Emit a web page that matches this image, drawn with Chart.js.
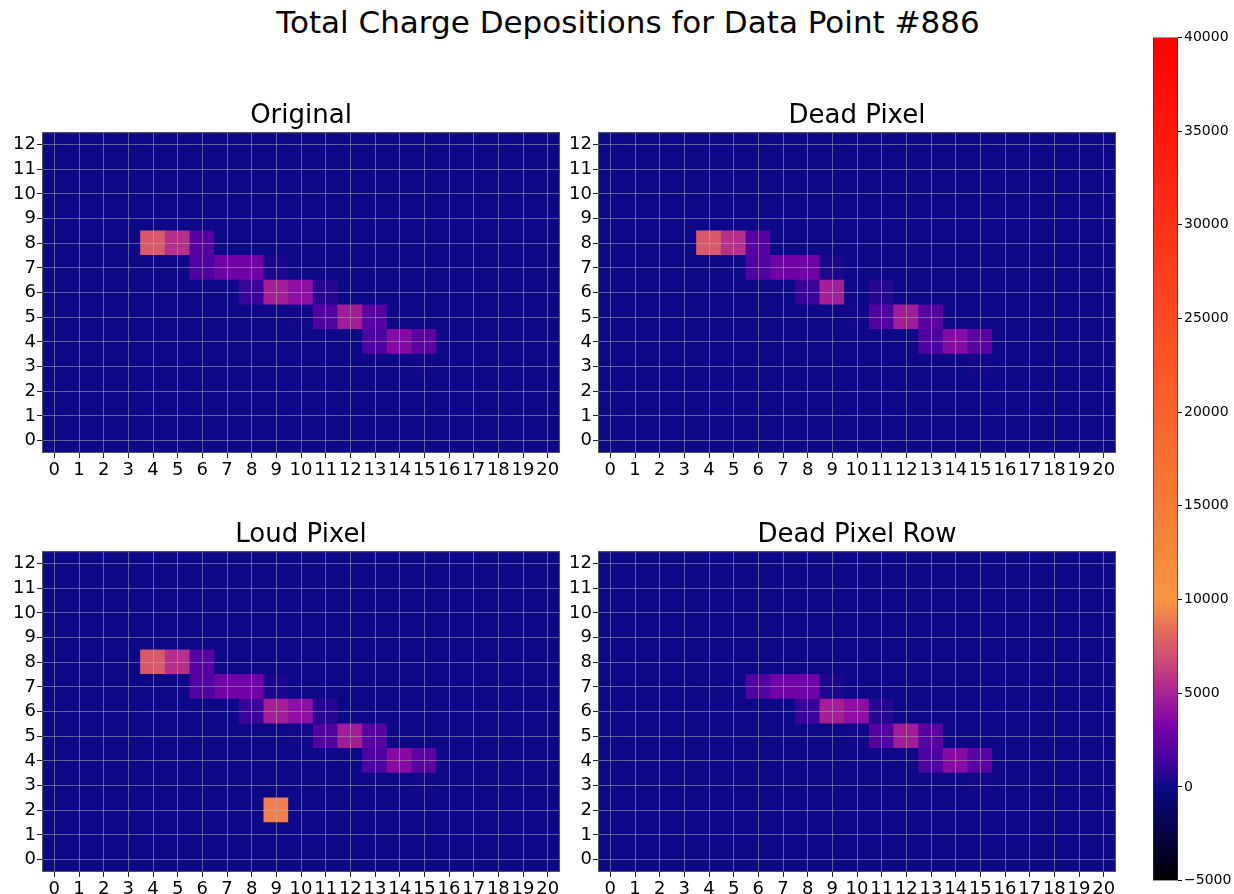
<!DOCTYPE html>
<html>
<head>
<meta charset="utf-8">
<script src="https://cdn.jsdelivr.net/npm/chart.js@4.4.0/dist/chart.umd.min.js"></script>
<style>
  body { margin: 0; background: #fff; width: 1234px; height: 894px; position: relative; overflow: hidden; font-family: "DejaVu Sans", sans-serif; }
  #titulo { position: absolute; left: 0; top: 2px; width: 1256px; text-align: center; font-size: 31px; line-height: 40px; color: #000; }
  canvas { position: absolute; }
</style>
</head>
<body>
<div id="titulo">Total Charge Depositions for Data Point #886</div>
<canvas id="original" width="565" height="396" style="left:0px; top:87px"></canvas>
<canvas id="deadPixel" width="565" height="396" style="left:556px; top:87px"></canvas>
<canvas id="loudPixel" width="565" height="396" style="left:0px; top:506px"></canvas>
<canvas id="deadPixelRow" width="565" height="396" style="left:556px; top:506px"></canvas>
<canvas id="barra" width="94" height="864" style="left:1140px; top:27px"></canvas>
<script>
// Ejes
const xLabels = ['0','1','2','3','4','5','6','7','8','9','10','11','12','13','14','15','16','17','18','19','20'];
const yLabels = [0, 1, 2, 3, 4, 5, 6, 7, 8, 9, 10, 11, 12];
const colorbarTicks = [-5000, 0, 5000, 10000, 15000, 20000, 25000, 30000, 35000, 40000];

// Carga por pixel, fila 0 primero (abajo) hasta fila 12 (arriba)
const valoresOriginal = [
  [0,0,0,0,0,0,0,0,0,0,0,0,0,0,0,0,0,0,0,0,0],
  [0,0,0,0,0,0,0,0,0,0,0,0,0,0,0,0,0,0,0,0,0],
  [0,0,0,0,0,0,0,0,0,0,0,0,0,0,0,0,0,0,0,0,0],
  [0,0,0,0,0,0,0,0,0,0,0,0,0,0,0,150,0,0,0,0,0],
  [0,0,0,0,0,0,0,0,0,0,0,0,0,1750,3700,2200,0,0,0,0,0],
  [0,0,0,0,0,0,0,0,0,0,100,1900,4700,2100,0,0,0,0,0,0,0],
  [0,0,0,0,0,0,0,0,1200,4800,3900,630,0,0,0,0,0,0,0,0,0],
  [0,0,0,0,-100,0,1800,2900,2900,450,0,0,0,0,0,0,0,0,0,0,0],
  [0,0,0,0,7500,5600,2000,0,0,0,0,0,0,0,0,0,0,0,0,0,0],
  [0,0,0,0,0,0,0,0,0,0,0,0,0,0,0,0,0,0,0,0,0],
  [0,0,0,0,0,0,0,0,0,0,0,0,0,0,0,0,0,0,0,0,0],
  [0,0,0,0,0,0,0,0,0,0,0,0,0,0,0,0,0,0,0,0,0],
  [0,0,0,0,0,0,0,0,0,0,0,0,0,0,0,0,0,0,0,0,0]
];

const valoresDeadPixel = [
  [0,0,0,0,0,0,0,0,0,0,0,0,0,0,0,0,0,0,0,0,0],
  [0,0,0,0,0,0,0,0,0,0,0,0,0,0,0,0,0,0,0,0,0],
  [0,0,0,0,0,0,0,0,0,0,0,0,0,0,0,0,0,0,0,0,0],
  [0,0,0,0,0,0,0,0,0,0,0,0,0,0,0,150,0,0,0,0,0],
  [0,0,0,0,0,0,0,0,0,0,0,0,0,1750,3700,2200,0,0,0,0,0],
  [0,0,0,0,0,0,0,0,0,0,100,1900,4700,2100,0,0,0,0,0,0,0],
  [0,0,0,0,0,0,0,0,1200,4800,0,630,0,0,0,0,0,0,0,0,0],
  [0,0,0,0,-100,0,1800,2900,2900,450,0,0,0,0,0,0,0,0,0,0,0],
  [0,0,0,0,7500,5600,2000,0,0,0,0,0,0,0,0,0,0,0,0,0,0],
  [0,0,0,0,0,0,0,0,0,0,0,0,0,0,0,0,0,0,0,0,0],
  [0,0,0,0,0,0,0,0,0,0,0,0,0,0,0,0,0,0,0,0,0],
  [0,0,0,0,0,0,0,0,0,0,0,0,0,0,0,0,0,0,0,0,0],
  [0,0,0,0,0,0,0,0,0,0,0,0,0,0,0,0,0,0,0,0,0]
];

const valoresLoudPixel = [
  [0,0,0,0,0,0,0,0,0,0,0,0,0,0,0,0,0,0,0,0,0],
  [0,0,0,0,0,0,0,0,0,0,0,0,0,0,0,0,0,0,0,0,0],
  [0,0,0,0,0,0,0,0,0,9200,0,0,0,0,0,0,0,0,0,0,0],
  [0,0,0,0,0,0,0,0,0,0,0,0,0,0,0,150,0,0,0,0,0],
  [0,0,0,0,0,0,0,0,0,0,0,0,0,1750,3700,2200,0,0,0,0,0],
  [0,0,0,0,0,0,0,0,0,0,100,1900,4700,2100,0,0,0,0,0,0,0],
  [0,0,0,0,0,0,0,0,1200,4800,3900,630,0,0,0,0,0,0,0,0,0],
  [0,0,0,0,-100,0,1800,2900,2900,450,0,0,0,0,0,0,0,0,0,0,0],
  [0,0,0,0,7500,5600,2000,0,0,0,0,0,0,0,0,0,0,0,0,0,0],
  [0,0,0,0,0,0,0,0,0,0,0,0,0,0,0,0,0,0,0,0,0],
  [0,0,0,0,0,0,0,0,0,0,0,0,0,0,0,0,0,0,0,0,0],
  [0,0,0,0,0,0,0,0,0,0,0,0,0,0,0,0,0,0,0,0,0],
  [0,0,0,0,0,0,0,0,0,0,0,0,0,0,0,0,0,0,0,0,0]
];

const valoresDeadPixelRow = [
  [0,0,0,0,0,0,0,0,0,0,0,0,0,0,0,0,0,0,0,0,0],
  [0,0,0,0,0,0,0,0,0,0,0,0,0,0,0,0,0,0,0,0,0],
  [0,0,0,0,0,0,0,0,0,0,0,0,0,0,0,0,0,0,0,0,0],
  [0,0,0,0,0,0,0,0,0,0,0,0,0,0,0,150,0,0,0,0,0],
  [0,0,0,0,0,0,0,0,0,0,0,0,0,1750,3700,2200,0,0,0,0,0],
  [0,0,0,0,0,0,0,0,0,0,100,1900,4700,2100,0,0,0,0,0,0,0],
  [0,0,0,0,0,0,0,0,1200,4800,3900,630,0,0,0,0,0,0,0,0,0],
  [0,0,0,0,-100,0,1800,2900,2900,450,0,0,0,0,0,0,0,0,0,0,0],
  [0,0,0,0,0,0,0,0,0,0,0,0,0,0,0,0,0,0,0,0,0],
  [0,0,0,0,0,0,0,0,0,0,0,0,0,0,0,0,0,0,0,0,0],
  [0,0,0,0,0,0,0,0,0,0,0,0,0,0,0,0,0,0,0,0,0],
  [0,0,0,0,0,0,0,0,0,0,0,0,0,0,0,0,0,0,0,0,0],
  [0,0,0,0,0,0,0,0,0,0,0,0,0,0,0,0,0,0,0,0,0]
];

// Mapa de color: negro -> plasma -> rojo
const cmapStops = [
  [-5000, [0, 0, 0]],
  [0, [12, 8, 135]],
  [1667, [76, 2, 161]],
  [3333, [126, 3, 168]],
  [5000, [169, 35, 149]],
  [6667, [204, 71, 120]],
  [8333, [229, 107, 93]],
  [10000, [248, 148, 65]],
  [40000, [255, 0, 0]]
];

function rgb(c) { return `rgb(${c.map(Math.round).join(',')})`; }

function colorDe(v) {
  for (let i = 1; i < cmapStops.length; i++) {
    const [v0, c0] = cmapStops[i - 1];
    const [v1, c1] = cmapStops[i];
    if (v <= v1) {
      const t = Math.max(0, (v - v0) / (v1 - v0));
      return rgb(c0.map((c, k) => c + (c1[k] - c) * t));
    }
  }
  return 'rgb(255,0,0)';
}

// Borde completo del area de dibujo
const marco = {
  id: 'marco',
  afterDraw(chart) {
    const a = chart.chartArea, ctx = chart.ctx;
    ctx.save();
    ctx.strokeStyle = '#555';
    ctx.lineWidth = 1;
    ctx.strokeRect(a.left + 0.5, a.top + 0.5, a.width - 1, a.height - 1);
    ctx.restore();
  }
};

const fuenteTicks = { family: 'DejaVu Sans', size: 18 };
const colorGrid = 'rgba(176,176,176,0.5)';

function heatmap(id, titulo, valores) {
  const datasets = yLabels.map(r => ({
    data: xLabels.map(() => [r - 0.5, r + 0.5]),
    backgroundColor: valores[r].map(colorDe),
    borderWidth: 0,
    inflateAmount: 0.5,
    grouped: false,
    barPercentage: 1,
    categoryPercentage: 1
  }));
  new Chart(document.getElementById(id), {
    type: 'bar',
    data: { labels: xLabels, datasets: datasets },
    options: {
      responsive: false,
      animation: false,
      layout: { padding: { right: 5 } },
      plugins: {
        legend: { display: false },
        tooltip: { enabled: false },
        title: {
          display: true, text: titulo, color: '#000', fullSize: false,
          font: { family: 'DejaVu Sans', size: 26, weight: 'normal' },
          padding: { top: 14, bottom: 0 }
        }
      },
      scales: {
        x: {
          offset: true,
          grid: { z: 1, offset: false, color: colorGrid, tickColor: '#222', tickLength: 5 },
          border: { display: false },
          ticks: { color: '#000', font: fuenteTicks, autoSkip: false, maxRotation: 0, padding: 2 },
          afterFit(s) { s.height = 30; }
        },
        y: {
          min: -0.5, max: 12.5,
          grid: { z: 1, color: colorGrid, tickColor: '#222', tickLength: 5 },
          border: { display: false },
          afterBuildTicks(s) { s.ticks = yLabels.map(v => ({ value: v })); },
          ticks: { color: '#000', font: fuenteTicks, padding: 1 },
          afterFit(s) { s.width = 42; }
        }
      }
    },
    plugins: [marco]
  });
}

heatmap('original', 'Original', valoresOriginal);
heatmap('deadPixel', 'Dead Pixel', valoresDeadPixel);
heatmap('loudPixel', 'Loud Pixel', valoresLoudPixel);
heatmap('deadPixelRow', 'Dead Pixel Row', valoresDeadPixelRow);

// Barra de color
new Chart(document.getElementById('barra'), {
  type: 'bar',
  data: {
    labels: [''],
    datasets: [{
      data: [[colorbarTicks[0], colorbarTicks[colorbarTicks.length - 1]]],
      backgroundColor(ctx) {
        const chart = ctx.chart;
        if (!chart.chartArea) return null;
        const y = chart.scales.y;
        const g = chart.ctx.createLinearGradient(0, y.getPixelForValue(-5000), 0, y.getPixelForValue(40000));
        cmapStops.forEach(([v, c]) => g.addColorStop((v + 5000) / 45000, rgb(c)));
        return g;
      },
      borderWidth: 1,
      borderColor: '#333',
      borderSkipped: false,
      barPercentage: 1,
      categoryPercentage: 1
    }]
  },
  options: {
    responsive: false,
    animation: false,
    layout: { padding: { left: 13, top: 0, bottom: 0 } },
    plugins: { legend: { display: false }, tooltip: { enabled: false } },
    scales: {
      x: { display: false },
      y: {
        position: 'right',
        min: -5000, max: 40000,
        afterBuildTicks(s) { s.ticks = colorbarTicks.map(v => ({ value: v })); },
        grid: { drawOnChartArea: false, tickColor: '#000', tickLength: 4 },
        border: { display: false },
        ticks: {
          color: '#000', font: { family: 'DejaVu Sans', size: 14 }, padding: 2,
          callback: v => (v < 0 ? '\u2212' + Math.abs(v) : String(v))
        },
        afterFit(s) { s.width = 56; }
      }
    }
  }
});
</script>
</body>
</html>
